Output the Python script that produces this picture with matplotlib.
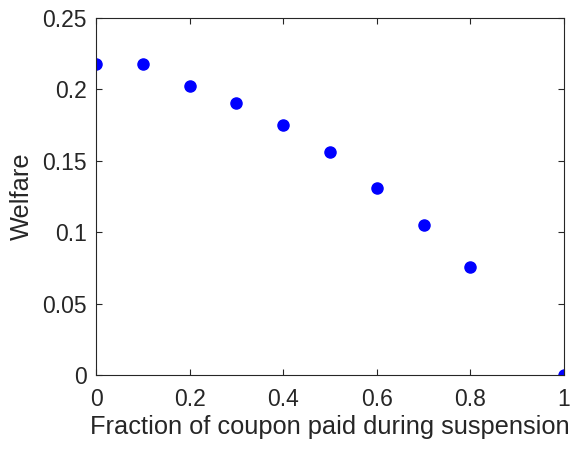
import numpy as np
import matplotlib.pyplot as plt

plt.rcParams['font.family'] = ['Liberation Sans', 'DejaVu Sans']

# fraction of coupon paid vs welfare
fraction = [0.0, 0.1, 0.2, 0.3, 0.4, 0.5, 0.6, 0.7, 0.8, 1.0]
welfare = [0.2178, 0.2178, 0.2024, 0.1905, 0.1751, 0.1562, 0.1310, 0.1050, 0.0756, 0.0]

dark = '#262626'

fig = plt.figure(figsize=(5.76, 4.51), dpi=100)
ax = fig.add_axes([0.1667, 0.1685, 0.8125, 0.7915])

ax.plot(fraction, welfare, 'o', color='#0000ff', markersize=8, clip_on=True)

ax.set_xlim(0, 1)
ax.set_ylim(0, 0.25)
ax.set_xticks([0, 0.2, 0.4, 0.6, 0.8, 1])
ax.set_xticklabels(['0', '0.2', '0.4', '0.6', '0.8', '1'])
ax.set_yticks([0, 0.05, 0.1, 0.15, 0.2, 0.25])
ax.set_yticklabels(['0', '0.05', '0.1', '0.15', '0.2', '0.25'])

ax.tick_params(direction='in', top=True, right=True, length=4, width=0.8,
               colors=dark, labelsize=16.5)
ax.tick_params(axis='x', pad=9)
ax.tick_params(axis='y', pad=6.5)
for s in ax.spines.values():
    s.set_color(dark)
    s.set_linewidth(0.8)

ax.set_xlabel('Fraction of coupon paid during suspension', fontsize=18.3, color=dark, labelpad=3)
ax.set_ylabel('Welfare', fontsize=18.3, color=dark, labelpad=6)

fig.savefig('out.png', dpi=100)
